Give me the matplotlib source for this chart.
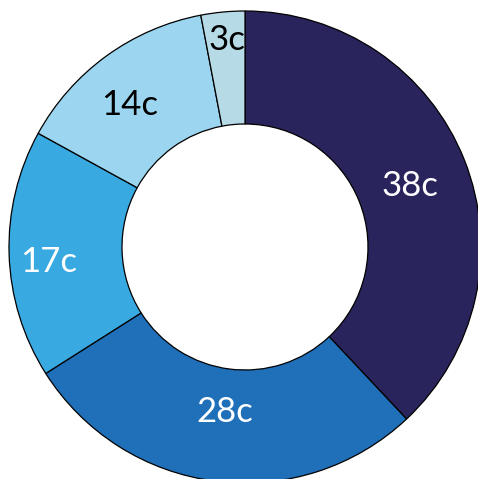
import matplotlib
matplotlib.use("Agg")
import matplotlib.pyplot as plt

labels = ["38c", "28c", "17c", "14c", "3c"]
values = [38, 28, 17, 14, 3]
colors = ["#2a245c", "#1f70b9", "#39a9e1", "#9bd5ef", "#b6dbe7"]
text_colors = ["white", "white", "white", "black", "black"]

# label positions (radius, in units of outer radius) tuned per slice
label_pos = [(0.70, 0.26), (-0.085, -0.70), (-0.83, -0.064), (-0.49, 0.60), (-0.076, 0.877)]

R = 236.0
fig = plt.figure(figsize=(4.78, 4.79), dpi=100)
ax = fig.add_axes([0, 0, 1, 1])
wedges, _ = ax.pie(values, colors=colors, startangle=90, counterclock=False,
                   radius=1.0, wedgeprops=dict(width=1 - 123 / R, edgecolor="black", linewidth=0.9))
for lab, (x, y), tc in zip(labels, label_pos, text_colors):
    ax.text(x, y, lab, ha="center", va="center", color=tc, fontsize=25, family="Lato")

ax.set_xlim(-245 / R, 233 / R)
ax.set_ylim(-232 / R, 247 / R)
ax.set_aspect("equal")
ax.axis("off")
fig.savefig("out.png", dpi=100)
